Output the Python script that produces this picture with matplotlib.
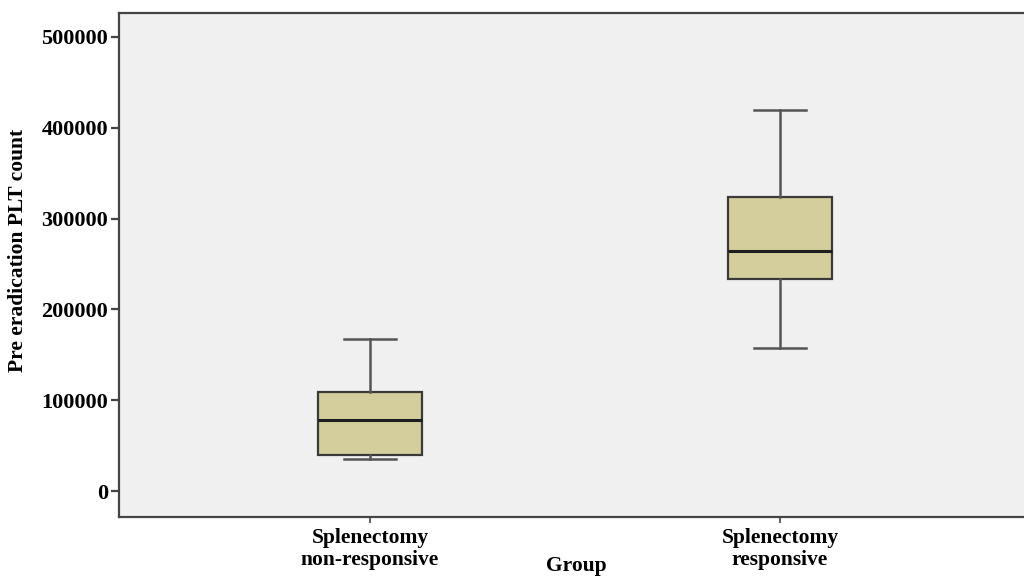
import matplotlib
matplotlib.use('Agg')
import matplotlib.pyplot as plt

# values
groups = ['Splenectomy\nnon-responsive', 'Splenectomy\nresponsive']
whislo = [35000, 158000]
q1 = [40000, 233000]
med = [78000, 264000]
q3 = [109000, 324000]
whishi = [167000, 420000]
yticks = [0, 100000, 200000, 300000, 400000, 500000]

plt.rcParams['font.family'] = ['Liberation Serif', 'DejaVu Serif']
plt.rcParams['font.weight'] = 'bold'

fig = plt.figure(figsize=(10.24, 5.77), dpi=100)
ax = fig.add_axes([119/1024, 1 - 517/577, 1 - 119/1024 + 0.01, (517 - 13)/577])
ax.set_facecolor('#f0f0f0')

stats = []
for i in range(len(groups)):
    stats.append(dict(whislo=whislo[i], q1=q1[i], med=med[i], q3=q3[i],
                      whishi=whishi[i], fliers=[]))

edge = '#3a3a3a'
ax.bxp(stats, positions=[1, 2], widths=0.254, patch_artist=True,
       boxprops=dict(facecolor='#d3ce9b', edgecolor=edge, linewidth=1.6),
       medianprops=dict(color='#1e1e1e', linewidth=2.2),
       whiskerprops=dict(color='#555555', linewidth=1.8),
       capprops=dict(color='#555555', linewidth=1.8),
       showfliers=False)

ax.set_xlim(0.388, 2.62)
ax.set_ylim(-28600, 526400)
ax.set_yticks(yticks)
ax.set_yticklabels([str(v) for v in yticks], fontsize=16, fontweight='bold')
ax.set_xticks([1, 2])
ax.set_xticklabels(groups, fontsize=15.5, fontweight='bold', linespacing=1.1)
ax.tick_params(axis='y', length=6, width=1.6, color='#444444', pad=2)
ax.tick_params(axis='x', length=4, width=1.2, color='#444444', pad=4)

for s in ['left', 'bottom', 'top']:
    ax.spines[s].set_color('#444444')
    ax.spines[s].set_linewidth(1.6)
ax.spines['right'].set_visible(False)

fig.text(18/1024, 1 - 250/577, 'Pre eradication PLT count', ha='center', va='center',
         rotation=90, fontsize=15.5, fontweight='bold')
fig.text(576/1024, 1 - 566/577, 'Group', ha='center', va='center',
         fontsize=15.5, fontweight='bold')

fig.savefig('out.png', dpi=100)
